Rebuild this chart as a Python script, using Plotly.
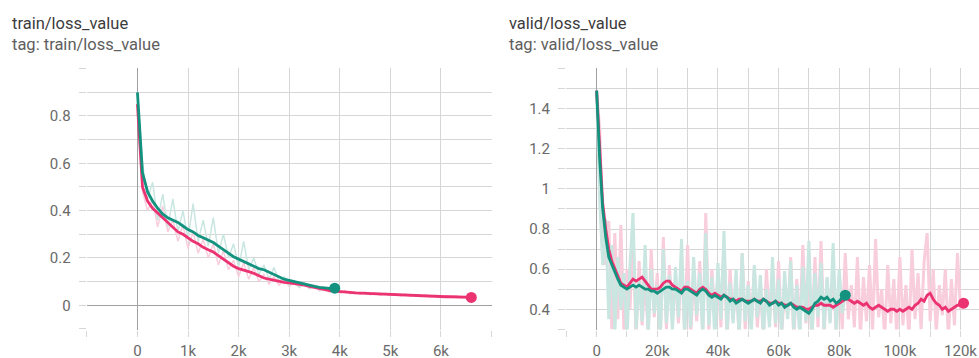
import plotly.graph_objects as go

# ---------------- data: train/loss_value ----------------
train_teal_x = [i * 100 for i in range(40)]
train_teal_smooth = [0.90, 0.56, 0.48, 0.44, 0.41, 0.385, 0.37, 0.36, 0.35, 0.335,
                     0.32, 0.31, 0.295, 0.285, 0.275, 0.265, 0.25, 0.235, 0.22, 0.205,
                     0.195, 0.185, 0.175, 0.165, 0.155, 0.15, 0.14, 0.13, 0.12, 0.11,
                     0.105, 0.10, 0.095, 0.09, 0.082, 0.08, 0.076, 0.073, 0.071, 0.072]
train_teal_raw = [0.90, 0.60, 0.45, 0.52, 0.36, 0.47, 0.33, 0.45, 0.31, 0.40,
                  0.28, 0.43, 0.27, 0.36, 0.25, 0.37, 0.22, 0.30, 0.20, 0.26,
                  0.16, 0.27, 0.15, 0.20, 0.13, 0.17, 0.11, 0.16, 0.10, 0.12,
                  0.085, 0.10, 0.075, 0.09, 0.07, 0.08, 0.065, 0.075, 0.065, 0.07]

train_pink_x = [i * 100 for i in range(67)]
train_pink_smooth = [0.85, 0.50, 0.44, 0.41, 0.39, 0.37, 0.35, 0.33, 0.31, 0.30,
                     0.285, 0.27, 0.26, 0.245, 0.235, 0.225, 0.21, 0.195, 0.18, 0.165,
                     0.155, 0.15, 0.142, 0.135, 0.125, 0.115, 0.11, 0.105, 0.10, 0.097,
                     0.095, 0.092, 0.09, 0.085, 0.08, 0.075, 0.07, 0.066, 0.062, 0.06,
                     0.057, 0.055, 0.054, 0.052, 0.051, 0.05, 0.049, 0.048, 0.046, 0.045,
                     0.045, 0.044, 0.043, 0.042, 0.041, 0.04, 0.04, 0.039, 0.038, 0.038,
                     0.037, 0.036, 0.036, 0.035, 0.034, 0.034, 0.033]
train_pink_raw = [0.85, 0.48, 0.40, 0.45, 0.33, 0.42, 0.31, 0.36, 0.27, 0.34,
                  0.24, 0.31, 0.22, 0.28, 0.20, 0.26, 0.17, 0.23, 0.15, 0.19,
                  0.12, 0.18, 0.11, 0.16, 0.10, 0.13, 0.09, 0.12, 0.085, 0.11,
                  0.08, 0.10, 0.075, 0.095, 0.07, 0.085, 0.06, 0.075, 0.055, 0.068,
                  0.05, 0.062, 0.048, 0.058, 0.046, 0.056, 0.044, 0.053, 0.042, 0.05,
                  0.04, 0.049, 0.039, 0.047, 0.037, 0.045, 0.036, 0.044, 0.035, 0.042,
                  0.034, 0.041, 0.033, 0.04, 0.032, 0.038, 0.033]

# ---------------- data: valid/loss_value ----------------
valid_teal_x = [i * 1000 for i in range(83)]
valid_teal_smooth = [1.49, 1.15, 0.90, 0.76, 0.66, 0.62, 0.58, 0.55, 0.52, 0.51,
                     0.50, 0.51, 0.52, 0.51, 0.52, 0.51, 0.50, 0.50, 0.49, 0.49,
                     0.48, 0.49, 0.50, 0.51, 0.51, 0.50, 0.50, 0.49, 0.48, 0.50,
                     0.50, 0.49, 0.48, 0.47, 0.49, 0.50, 0.49, 0.47, 0.46, 0.47,
                     0.46, 0.45, 0.47, 0.46, 0.44, 0.45, 0.43, 0.44, 0.45, 0.44,
                     0.43, 0.44, 0.45, 0.44, 0.43, 0.45, 0.44, 0.42, 0.43, 0.44,
                     0.42, 0.43, 0.41, 0.42, 0.43, 0.41, 0.40, 0.41, 0.40, 0.39,
                     0.38, 0.40, 0.43, 0.44, 0.46, 0.45, 0.46, 0.44, 0.45, 0.43,
                     0.44, 0.46, 0.47]
valid_teal_raw = [1.49, 0.95, 0.62, 0.85, 0.35, 0.72, 0.28, 0.66, 0.40, 0.58,
                  0.25, 0.62, 0.88, 0.30, 0.55, 0.34, 0.72, 0.27, 0.60, 0.38,
                  0.52, 0.26, 0.70, 0.33, 0.57, 0.29, 0.61, 0.36, 0.75, 0.28,
                  0.54, 0.31, 0.66, 0.37, 0.58, 0.27, 0.78, 0.32, 0.56, 0.25,
                  0.63, 0.35, 0.79, 0.29, 0.53, 0.33, 0.60, 0.26, 0.68, 0.34,
                  0.52, 0.28, 0.62, 0.36, 0.57, 0.27, 0.50, 0.31, 0.66, 0.33,
                  0.55, 0.28, 0.59, 0.35, 0.64, 0.30, 0.52, 0.26, 0.61, 0.34,
                  0.74, 0.25, 0.58, 0.36, 0.63, 0.30, 0.56, 0.33, 0.73, 0.29,
                  0.60, 0.38, 0.48]

valid_pink_x = [i * 1000 for i in range(122)]
valid_pink_smooth = [1.49, 1.20, 0.93, 0.80, 0.70, 0.64, 0.60, 0.56, 0.53, 0.52,
                     0.51, 0.53, 0.55, 0.54, 0.55, 0.56, 0.54, 0.52, 0.50, 0.50,
                     0.50, 0.51, 0.53, 0.54, 0.54, 0.52, 0.51, 0.50, 0.49, 0.51,
                     0.51, 0.50, 0.49, 0.48, 0.50, 0.51, 0.50, 0.48, 0.47, 0.48,
                     0.47, 0.46, 0.47, 0.46, 0.45, 0.45, 0.44, 0.45, 0.45, 0.44,
                     0.44, 0.44, 0.45, 0.44, 0.44, 0.45, 0.44, 0.43, 0.43, 0.44,
                     0.43, 0.43, 0.42, 0.42, 0.43, 0.42, 0.41, 0.41, 0.41, 0.40,
                     0.40, 0.41, 0.42, 0.42, 0.43, 0.42, 0.42, 0.42, 0.41, 0.42,
                     0.43, 0.44, 0.45, 0.45, 0.44, 0.43, 0.44, 0.43, 0.42, 0.43,
                     0.41, 0.40, 0.41, 0.42, 0.41, 0.40, 0.39, 0.40, 0.40, 0.39,
                     0.40, 0.39, 0.40, 0.41, 0.40, 0.42, 0.43, 0.45, 0.44, 0.47,
                     0.48, 0.45, 0.43, 0.42, 0.40, 0.41, 0.39, 0.40, 0.41, 0.42,
                     0.42, 0.43]
valid_pink_raw = [1.49, 1.30, 0.80, 0.62, 0.84, 0.30, 0.78, 0.35, 0.82, 0.28,
                  0.60, 0.40, 0.78, 0.25, 0.64, 0.32, 0.56, 0.28, 0.70, 0.36,
                  0.58, 0.26, 0.76, 0.30, 0.62, 0.37, 0.55, 0.33, 0.66, 0.28,
                  0.72, 0.25, 0.59, 0.34, 0.64, 0.27, 0.88, 0.29, 0.60, 0.36,
                  0.56, 0.31, 0.72, 0.24, 0.60, 0.35, 0.52, 0.27, 0.68, 0.30,
                  0.54, 0.33, 0.60, 0.31, 0.52, 0.25, 0.60, 0.34, 0.58, 0.31,
                  0.64, 0.27, 0.50, 0.36, 0.66, 0.25, 0.55, 0.30, 0.72, 0.33,
                  0.52, 0.24, 0.66, 0.31, 0.74, 0.28, 0.55, 0.34, 0.62, 0.27,
                  0.57, 0.30, 0.68, 0.35, 0.52, 0.31, 0.66, 0.27, 0.56, 0.34,
                  0.62, 0.29, 0.75, 0.36, 0.50, 0.26, 0.62, 0.33, 0.55, 0.27,
                  0.66, 0.32, 0.52, 0.25, 0.70, 0.35, 0.58, 0.30, 0.64, 0.78,
                  0.34, 0.60, 0.28, 0.52, 0.37, 0.60, 0.26, 0.55, 0.32, 0.68,
                  0.40, 0.43]

# ---------------- tick labels ----------------
train_x_tickvals = [-1000, 0, 1000, 2000, 3000, 4000, 5000, 6000, 7000]
train_x_ticktext = ["", "0", "1k", "2k", "3k", "4k", "5k", "6k", ""]
train_y_tickvals = [-0.1, 0, 0.1, 0.2, 0.3, 0.4, 0.5, 0.6, 0.7, 0.8, 0.9, 1.0]
train_y_ticktext = ["", "0", "", "0.2", "", "0.4", "", "0.6", "", "0.8", "", ""]
valid_x_tickvals = [-10000 + 10000 * i for i in range(14)]
valid_x_ticktext = ["", "0", "", "20k", "", "40k", "", "60k", "", "80k", "", "100k", "", "120k"]
valid_y_tickvals = [0.3, 0.4, 0.5, 0.6, 0.7, 0.8, 0.9, 1.0, 1.1, 1.2, 1.3, 1.4, 1.5, 1.6]
valid_y_ticktext = ["", "0.4", "", "0.6", "", "0.8", "", "1", "", "1.2", "", "1.4", "", ""]

titles = ["train/loss_value", "valid/loss_value"]
subtitles = ["tag: train/loss_value", "tag: valid/loss_value"]

TEAL = "#12927f"
PINK = "#ec3372"
TEAL_RAW = "#c9e6e1"
PINK_RAW = "#f8cddc"
GRID = "#d6d6d6"
ZERO = "#a0a0a0"
FONT = "Roboto"

fig = go.Figure()


def add_raw(x, raw, raw_color, width, xa, ya):
    fig.add_trace(go.Scatter(x=x, y=raw, mode="lines", line=dict(color=raw_color, width=width),
                             xaxis=xa, yaxis=ya, showlegend=False, hoverinfo="skip"))


def add_smooth(x, smooth, color, xa, ya):
    fig.add_trace(go.Scatter(x=x, y=smooth, mode="lines", line=dict(color=color, width=2.8),
                             xaxis=xa, yaxis=ya, showlegend=False))
    fig.add_trace(go.Scatter(x=[x[-1]], y=[smooth[-1]], mode="markers",
                             marker=dict(color=color, size=11), xaxis=xa, yaxis=ya,
                             showlegend=False))


# left chart
add_raw(train_pink_x, train_pink_raw, PINK_RAW, 1.5, "x", "y")
add_raw(train_teal_x, train_teal_raw, TEAL_RAW, 1.5, "x", "y")
add_smooth(train_pink_x, train_pink_smooth, PINK, "x", "y")
add_smooth(train_teal_x, train_teal_smooth, TEAL, "x", "y")
# right chart
add_raw(valid_pink_x, valid_pink_raw, PINK_RAW, 3, "x2", "y2")
add_raw(valid_teal_x, valid_teal_raw, TEAL_RAW, 3, "x2", "y2")
add_smooth(valid_pink_x, valid_pink_smooth, PINK, "x2", "y2")
add_smooth(valid_teal_x, valid_teal_smooth, TEAL, "x2", "y2")

W, H = 979, 358
ydom = [1 - 329.5 / H, 1 - 68.3 / H]

tickfont = dict(family=FONT, size=15, color="#6a6a6a")
common_x = dict(showgrid=True, gridcolor=GRID, gridwidth=1, zeroline=True, zerolinecolor=ZERO,
                zerolinewidth=1.3, ticks="outside", ticklen=6, tickcolor=GRID, tickfont=tickfont,
                showline=False, tickmode="array", ticklabelstandoff=1, automargin=False)
common_y = dict(showgrid=True, gridcolor=GRID, gridwidth=1, ticks="outside", ticklen=7,
                tickcolor=GRID, tickfont=tickfont, showline=False, tickmode="array",
                ticklabelstandoff=5, automargin=False)

fig.update_layout(
    width=W, height=H,
    margin=dict(l=0, r=0, t=0, b=0),
    paper_bgcolor="white", plot_bgcolor="white",
    font=dict(family=FONT),
    xaxis=dict(domain=[86.7 / W, 491.7 / W], range=[-1003, 7003], anchor="y",
               tickvals=train_x_tickvals, ticktext=train_x_ticktext, **common_x),
    yaxis=dict(domain=ydom, range=[-0.1025, 1.0015], anchor="x",
               tickvals=train_y_tickvals, ticktext=train_y_ticktext,
               zeroline=True, zerolinecolor=ZERO, zerolinewidth=1.3, **common_y),
    xaxis2=dict(domain=[566 / W, 1.0], range=[-10100, 126100], anchor="y2",
                tickvals=valid_x_tickvals, ticktext=valid_x_ticktext, **common_x),
    yaxis2=dict(domain=ydom, range=[0.299, 1.6015], anchor="x2",
                tickvals=valid_y_tickvals, ticktext=valid_y_ticktext,
                zeroline=False, **common_y),
)

for i, xpos in enumerate([10, 507]):
    fig.add_annotation(text=titles[i], xref="paper", yref="paper", x=xpos / W, y=1 - 23.5 / H,
                       xanchor="left", yanchor="middle", showarrow=False,
                       font=dict(family=FONT, size=16.5, color="#3c3c3c"))
    fig.add_annotation(text=subtitles[i], xref="paper", yref="paper", x=xpos / W, y=1 - 44.5 / H,
                       xanchor="left", yanchor="middle", showarrow=False,
                       font=dict(family=FONT, size=16.5, color="#5e5e5e"))

fig.write_html("out.html", config={"displayModeBar": False},
               post_script="document.body.style.margin='0';document.body.style.overflow='hidden';")
